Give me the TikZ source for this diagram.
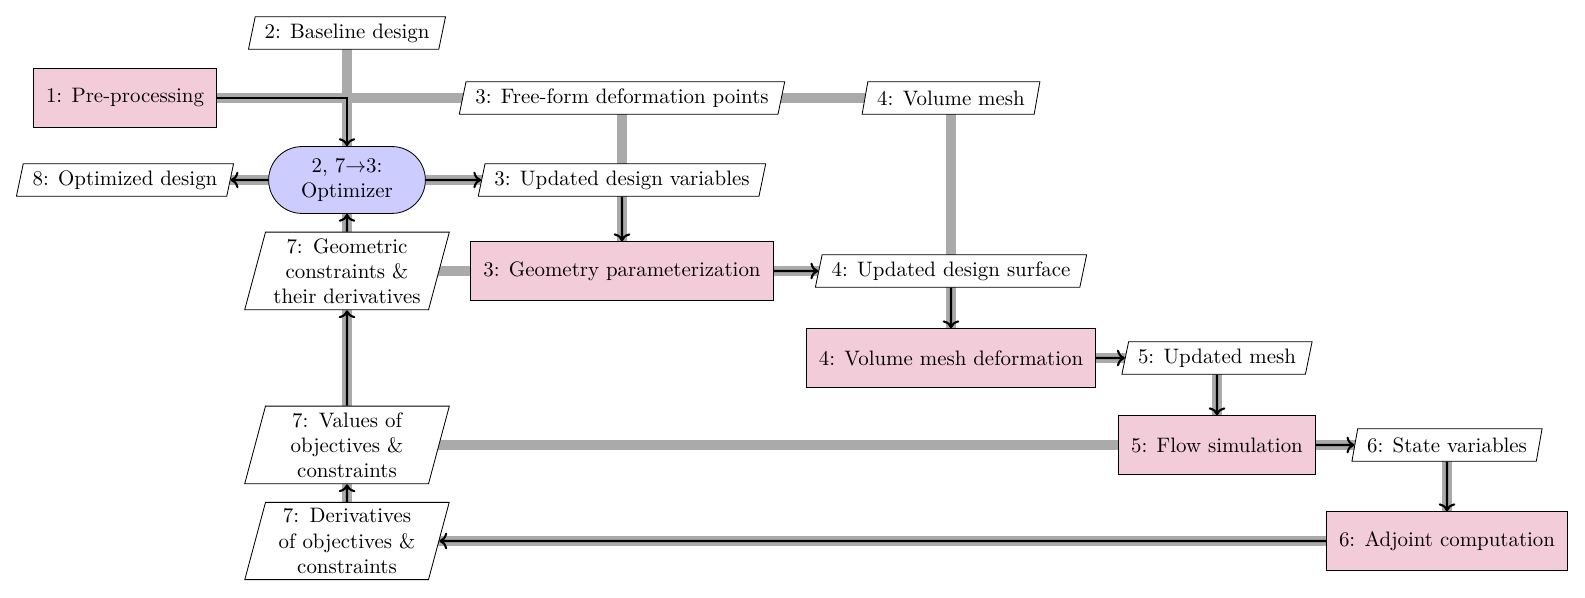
\documentclass[tikz,border=0pt]{standalone}
\usepackage{amsmath,amssymb}
\usepackage{xcolor}
\usepackage{tikz}
\usetikzlibrary{calc,arrows.meta,shapes.geometric}
\definecolor{funcpink}{HTML}{F2CCD8}
\definecolor{optblue}{HTML}{CCCCFF}
\definecolor{flowgray}{HTML}{AAAAAA}
\pgfdeclarelayer{datalayer}
\pgfdeclarelayer{proclayer}
\pgfsetlayers{datalayer,proclayer,main}
\tikzset{
  func/.style={draw,fill=funcpink,minimum height=28pt,inner xsep=6pt,inner ysep=2pt},
  optim/.style={draw,fill=optblue,rounded corners=16pt,minimum width=75pt,minimum height=32pt,align=center,inner sep=2pt},
  dio/.style={draw,fill=white,trapezium,trapezium left angle=75,trapezium right angle=105,trapezium stretches=true,minimum height=15.5pt,inner xsep=4.5pt,inner ysep=1.5pt,align=center},
  dio3/.style={dio,text width=74pt,inner xsep=2pt,inner ysep=3pt},
  dline/.style={line width=5pt,flowgray},
  pline/.style={->,line width=1pt,black}
}

\begin{document}
\begin{tikzpicture}[x=0.4785pt,y=-0.4785pt]
\useasboundingbox (0,0) rectangle (1585,598);
% grid of components
\node[dio] (base) at (347,33) {2: Baseline design};
\node[func] (pre) at (125,98) {1: Pre-processing};
\node[dio] (ffd) at (622,98) {3: Free-form deformation points};
\node[dio] (vmesh) at (951,98) {4: Volume mesh};
\node[dio] (optd) at (125,180) {8: Optimized design};
\node[optim] (opt) at (347,180) {2, 7$\rightarrow$3:\\Optimizer};
\node[dio] (udv) at (622,180) {3: Updated design variables};
\node[dio3] (geo7) at (347,271) {7: Geometric\\constraints \&\\their derivatives};
\node[func] (geo) at (622,271) {3: Geometry parameterization};
\node[dio] (uds) at (951,271) {4: Updated design surface};
\node[func] (vmd) at (951,358) {4: Volume mesh deformation};
\node[dio] (umesh) at (1217,358) {5: Updated mesh};
\node[dio3] (val7) at (347,445) {7: Values of\\objectives \&\\constraints};
\node[func] (flow) at (1217,445) {5: Flow simulation};
\node[dio] (state) at (1447,445) {6: State variables};
\node[dio3] (der7) at (347,541) {7: Derivatives\\of objectives \&\\constraints};
\node[func] (adj) at (1447,541) {6: Adjoint computation};
% data connections
\begin{pgfonlayer}{datalayer}
\draw[dline] (base.center) -- (opt.center);
\draw[dline] (pre.center) -- (vmesh.center);
\draw[dline] (ffd.center) -- (geo.center);
\draw[dline] (vmesh.center) -- (vmd.center);
\draw[dline] (optd.center) -- (udv.center);
\draw[dline] (geo7.center) -- (uds.center);
\draw[dline] (vmd.center) -- (umesh.center);
\draw[dline] (umesh.center) -- (flow.center);
\draw[dline] (val7.center) -- (state.center);
\draw[dline] (state.center) -- (adj.center);
\draw[dline] (der7.center) -- (adj.center);
\draw[dline] (der7.center) -- (opt.center);
\end{pgfonlayer}
% process flow
\begin{pgfonlayer}{proclayer}
\draw[pline] (pre) -| (opt);
\draw[pline] (opt) -- (udv);
\draw[pline] (opt) -- (optd);
\draw[pline] (udv) -- (geo);
\draw[pline] (geo) -- (uds);
\draw[pline] (uds) -- (vmd);
\draw[pline] (vmd) -- (umesh);
\draw[pline] (umesh) -- (flow);
\draw[pline] (flow) -- (state);
\draw[pline] (state) -- (adj);
\draw[pline] (adj) -- (der7);
\draw[pline] (der7) -- (val7);
\draw[pline] (val7) -- (geo7);
\draw[pline] (geo7) -- (opt);
\end{pgfonlayer}
\end{tikzpicture}
\end{document}
